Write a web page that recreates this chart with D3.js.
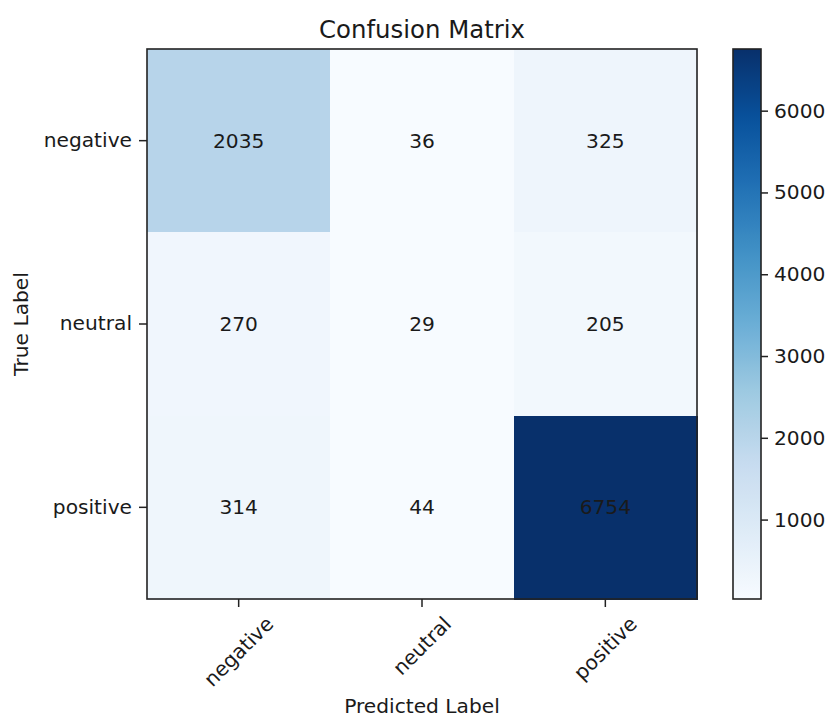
<!DOCTYPE html>
<html>
<head>
<meta charset="utf-8">
<script src="https://cdn.jsdelivr.net/npm/d3@7"></script>
<style>
  html, body { margin: 0; padding: 0; background: #fff; }
  svg { display: block; font-family: "DejaVu Sans", sans-serif; }
</style>
</head>
<body>
<svg id="chart" width="827" height="718"></svg>
<script>
// Class labels for both axes
const classes = ["negative", "neutral", "positive"];
// Counts: rows = true class, columns = predicted class
const rowNegative = [2035, 36, 325];
const rowNeutral  = [270, 29, 205];
const rowPositive = [314, 44, 6754];
const matrixRows = [rowNegative, rowNeutral, rowPositive];
// Colour bar ticks
const colorbarTicks = [1000, 2000, 3000, 4000, 5000, 6000];

// "Blues" palette anchors
const bluesPalette = ["#f7fbff", "#deebf7", "#c6dbef", "#9ecae1", "#6baed6",
                      "#4292c6", "#2171b5", "#08519c", "#08306b"];

const svg = d3.select("#chart");
const fontSize = 20.2;
const textColor = "#1a1a1a";

const plot = { left: 147, right: 697, top: 49, bottom: 599 };
const cbar = { left: 733, right: 761, top: 49, bottom: 599 };

const allValues = matrixRows.flat();
const vmin = d3.min(allValues), vmax = d3.max(allValues);

const colorDomain = bluesPalette.map((_, i) => vmin + (vmax - vmin) * i / (bluesPalette.length - 1));
const color = d3.scaleLinear().domain(colorDomain).range(bluesPalette).interpolate(d3.interpolateRgb).clamp(true);

const x = d3.scaleBand().domain(classes).range([plot.left, plot.right]);
const y = d3.scaleBand().domain(classes).range([plot.top, plot.bottom]);

// Cells
const cells = [];
matrixRows.forEach((row, i) => row.forEach((v, j) => cells.push({ t: classes[i], p: classes[j], v })));

svg.append("g").selectAll("rect").data(cells).join("rect")
  .attr("x", d => x(d.p)).attr("y", d => y(d.t))
  .attr("width", x.bandwidth() + 0.5).attr("height", y.bandwidth() + 0.5)
  .attr("fill", d => color(d.v))
  .attr("shape-rendering", "crispEdges");

// Cell annotations
svg.append("g").selectAll("text").data(cells).join("text")
  .attr("x", d => x(d.p) + x.bandwidth() / 2)
  .attr("y", d => y(d.t) + y.bandwidth() / 2)
  .attr("text-anchor", "middle").attr("dominant-baseline", "central")
  .attr("font-size", fontSize).attr("fill", textColor)
  .text(d => d.v);

// Frame around the matrix
svg.append("rect")
  .attr("x", plot.left).attr("y", plot.top)
  .attr("width", plot.right - plot.left).attr("height", plot.bottom - plot.top)
  .attr("fill", "none").attr("stroke", "#222").attr("stroke-width", 1.6);

// Left axis
const yAxis = svg.append("g").attr("transform", `translate(${plot.left},0)`)
  .call(d3.axisLeft(y).tickSize(8).tickPadding(7));
yAxis.select(".domain").remove();
yAxis.selectAll("line").attr("stroke", "#222").attr("stroke-width", 1.5);
yAxis.selectAll("text").attr("font-size", fontSize).attr("fill", textColor)
  .attr("font-family", "DejaVu Sans, sans-serif");

// Bottom axis with 45° labels, bounding box centred under each tick
const xAxis = svg.append("g").attr("transform", `translate(0,${plot.bottom})`)
  .call(d3.axisBottom(x).tickSize(8).tickFormat(""));
xAxis.select(".domain").remove();
xAxis.selectAll("line").attr("stroke", "#222").attr("stroke-width", 1.5);

const xLabels = svg.append("g").selectAll("text").data(classes).join("text")
  .attr("font-size", fontSize).attr("fill", textColor)
  .attr("text-anchor", "middle").attr("dominant-baseline", "central")
  .text(d => d);
xLabels.each(function(d) {
  const w = this.getComputedTextLength();
  const h = fontSize * 1.16;
  const side = (w + h) * Math.SQRT1_2;
  const cx = x(d) + x.bandwidth() / 2;
  const cy = plot.bottom + 8 + 5 + side / 2;
  d3.select(this).attr("transform", `translate(${cx},${cy}) rotate(-45)`);
});

// Title and axis titles
svg.append("text").attr("x", (plot.left + plot.right) / 2).attr("y", 38)
  .attr("text-anchor", "middle").attr("font-size", 24.4).attr("fill", textColor)
  .text("Confusion Matrix");

svg.append("text").attr("x", (plot.left + plot.right) / 2).attr("y", 713)
  .attr("text-anchor", "middle").attr("font-size", fontSize).attr("fill", textColor)
  .text("Predicted Label");

svg.append("text")
  .attr("transform", `translate(28,${(plot.top + plot.bottom) / 2}) rotate(-90)`)
  .attr("text-anchor", "middle").attr("font-size", fontSize).attr("fill", textColor)
  .text("True Label");

// Colour bar
const cScale = d3.scaleLinear().domain([vmin, vmax]).range([cbar.bottom, cbar.top]);
const grad = svg.append("defs").append("linearGradient")
  .attr("id", "cbarGrad").attr("x1", 0).attr("y1", 1).attr("x2", 0).attr("y2", 0);
d3.range(0, 1.0001, 0.02).forEach(t => {
  grad.append("stop").attr("offset", t).attr("stop-color", color(vmin + t * (vmax - vmin)));
});
svg.append("rect")
  .attr("x", cbar.left).attr("y", cbar.top)
  .attr("width", cbar.right - cbar.left).attr("height", cbar.bottom - cbar.top)
  .attr("fill", "url(#cbarGrad)").attr("stroke", "#222").attr("stroke-width", 1.6);

const cAxis = svg.append("g").attr("transform", `translate(${cbar.right},0)`)
  .call(d3.axisRight(cScale).tickValues(colorbarTicks).tickSize(7).tickPadding(6).tickFormat(d3.format("d")));
cAxis.select(".domain").remove();
cAxis.selectAll("line").attr("stroke", "#222").attr("stroke-width", 1.5);
cAxis.selectAll("text").attr("font-size", fontSize).attr("fill", textColor)
  .attr("font-family", "DejaVu Sans, sans-serif");
</script>
</body>
</html>
